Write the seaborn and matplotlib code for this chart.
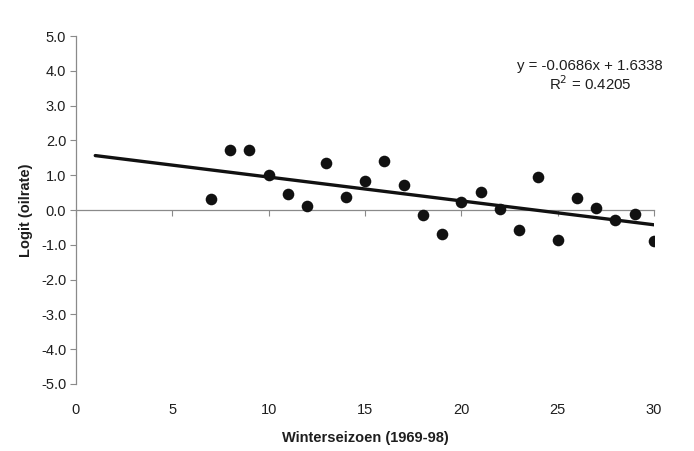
import numpy as np
import pandas as pd
import matplotlib
matplotlib.use("Agg")
import matplotlib.pyplot as plt
import seaborn as sns

# Winter seasons (index, 1969-98) and logit of oiled-bird rate
seasons = [7, 8, 9, 10, 11, 12, 13, 14, 15, 16, 17, 18, 19, 20, 21, 22, 23, 24, 25, 26, 27, 28, 29, 30]
logit_values = [0.32, 1.72, 1.72, 1.00, 0.46, 0.12, 1.35, 0.37, 0.83, 1.41, 0.72, -0.14,
                -0.69, 0.23, 0.52, 0.03, -0.57, 0.95, -0.86, 0.34, 0.06, -0.29, -0.12, -0.89]

# Linear trend line coefficients and fit quality
slope = -0.0686
intercept = 1.6338
r_squared = 0.4205
trend_x = [1, 30]

x_ticks = [0, 5, 10, 15, 20, 25, 30]
y_ticks = [-5, -4, -3, -2, -1, 0, 1, 2, 3, 4, 5]

df = pd.DataFrame({"season": seasons, "logit": logit_values})
trend = pd.DataFrame({"season": trend_x,
                      "logit": [slope * x + intercept for x in trend_x]})

sns.set_theme(style="white")
plt.rcParams["font.family"] = ["Liberation Sans", "DejaVu Sans"]

fig = plt.figure(figsize=(6.94, 4.51), dpi=100)
ax = fig.add_axes([0.1095, 0.1486, 0.8329, 0.7714])

axis_grey = "#8a8a8a"
text_col = "#1e1e1e"

sns.lineplot(data=trend, x="season", y="logit", ax=ax, color="#111111", linewidth=2.4)
sns.scatterplot(data=df, x="season", y="logit", ax=ax, color="#111111", s=70,
                edgecolor="#111111", linewidth=0, zorder=5)

ax.set_xlim(0, 30)
ax.set_ylim(-5, 5)
ax.set_xticks(x_ticks)
ax.set_yticks(y_ticks)
ax.set_yticklabels([f"{v:.1f}" for v in y_ticks])

for side in ["top", "right", "bottom"]:
    ax.spines[side].set_visible(False)
ax.spines["left"].set_color(axis_grey)
ax.spines["left"].set_linewidth(0.9)

ax.tick_params(axis="y", direction="out", length=4, width=0.8, color=axis_grey,
               labelsize=10.5, labelcolor=text_col, pad=3, left=True)
ax.tick_params(axis="x", length=0, labelsize=10.5, labelcolor=text_col, pad=14)

# Horizontal axis line drawn through zero, with tick marks hanging below it
zero_axis = ax.secondary_xaxis(0.5)
zero_axis.set_xticks(x_ticks, labels=[""] * len(x_ticks))
zero_axis.tick_params(axis="x", direction="in", length=4, width=0.8, color=axis_grey,
                      labelbottom=False, labeltop=False)
for sp in zero_axis.spines.values():
    sp.set_color(axis_grey)
    sp.set_linewidth(0.9)

ax.set_xlabel("Winterseizoen (1969-98)", fontsize=10.5, fontweight="bold", color=text_col, labelpad=10)
ax.set_ylabel("Logit (oilrate)", fontsize=10.5, fontweight="bold", color=text_col, labelpad=6)

ax.text(0.889, 0.914, f"y = {slope:.4f}x + {intercept:.4f}", transform=ax.transAxes,
        ha="center", va="center", fontsize=10.8, color=text_col)
ax.text(0.889, 0.862, f"R$^2$ = {r_squared:.4f}", transform=ax.transAxes,
        ha="center", va="center", fontsize=10.8, color=text_col)

fig.savefig("out.png", dpi=100, facecolor="white")
